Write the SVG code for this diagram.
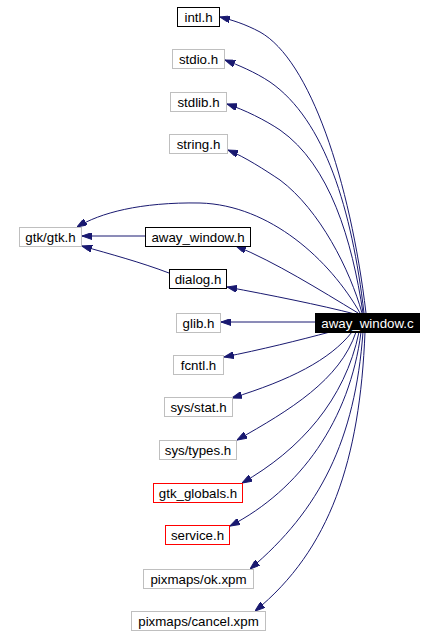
<svg xmlns="http://www.w3.org/2000/svg" width="436" height="636" viewBox="0 0 436 636">
<style>
  .bg { fill: #ffffff; }
  .n rect { fill: #ffffff; stroke-width: 1; }
  .gray rect { stroke: #bfbfbf; }
  .black rect { stroke: #000000; }
  .red rect { stroke: #ff0000; }
  .root rect { fill: #000000; stroke: #000000; }
  .n text { font-family: "Liberation Sans", Arial, sans-serif; font-size: 13.3px; text-anchor: middle; fill: #000000; }
  .root text { fill: #ffffff; }
  .e { fill: none; stroke: #191970; stroke-width: 1; marker-end: url(#arr); }
</style>
<defs>
  <marker id="arr" markerUnits="userSpaceOnUse" viewBox="0 0 10 7" refX="10" refY="3.5" markerWidth="10" markerHeight="7" orient="auto">
    <path d="M0,0 L10,3.5 L0,7 z" fill="#191970" stroke="#191970"/>
  </marker>
</defs>
<rect class="bg" x="0" y="0" width="436" height="636"/>
<g id="edges">
  <path class="e" d="M366,313 C350,180 310,60 260,32 C245,24 232,20 220,17"/>
  <path class="e" d="M364,313 C352,210 325,120 270,82 C255,72 238,65 225,60"/>
  <path class="e" d="M363,313 C352,240 330,165 280,130 C265,120 245,110 227,104"/>
  <path class="e" d="M362,313 C350,270 320,210 280,180 C265,170 245,157 228,150"/>
  <path class="e" d="M360,313 C330,260 270,205 200,203 C140,202 100,213 77,227"/>
  <path class="e" d="M358,313 C320,290 275,262 236,246"/>
  <path class="e" d="M355,314 C320,305 270,295 227,287"/>
  <path class="e" d="M315,322 L221,322"/>
  <path class="e" d="M330,332 C300,340 260,350 224,357"/>
  <path class="e" d="M352,332 C330,360 290,380 232,398"/>
  <path class="e" d="M356,332 C340,380 290,410 237,440"/>
  <path class="e" d="M359,332 C345,400 300,450 242,483"/>
  <path class="e" d="M361,332 C350,420 300,490 230,526"/>
  <path class="e" d="M363,332 C355,440 320,510 250,569"/>
  <path class="e" d="M365,332 C360,460 330,550 255,611"/>
  <path class="e" d="M145,236 L82,236"/>
  <path class="e" d="M169,273 C140,262 110,254 82,246"/>
</g>
<g id="node-intl" class="n black"><rect x="177.5" y="7.5" width="42" height="19"/><text x="198.5" y="21.5">intl.h</text></g>
<g id="node-stdio" class="n gray"><rect x="172.5" y="49.5" width="52" height="19"/><text x="198.5" y="63.5">stdio.h</text></g>
<g id="node-stdlib" class="n gray"><rect x="170.5" y="92.5" width="56" height="19"/><text x="198.5" y="106.5">stdlib.h</text></g>
<g id="node-string" class="n gray"><rect x="169.5" y="134.5" width="58" height="19"/><text x="198.5" y="148.5">string.h</text></g>
<g id="node-gtk" class="n gray"><rect x="19.5" y="227.5" width="62" height="19"/><text x="50.5" y="241.5">gtk/gtk.h</text></g>
<g id="node-away_window_h" class="n black"><rect x="145.5" y="227.5" width="105" height="19"/><text x="198" y="241.5">away_window.h</text></g>
<g id="node-dialog" class="n black"><rect x="169.5" y="269.5" width="57" height="19"/><text x="198" y="283.5">dialog.h</text></g>
<g id="node-glib" class="n gray"><rect x="176.5" y="313.5" width="44" height="19"/><text x="198.5" y="327.5">glib.h</text></g>
<g id="node-away_window_c" class="n root"><rect x="315.5" y="313.5" width="104" height="19"/><text x="367.5" y="327.5">away_window.c</text></g>
<g id="node-fcntl" class="n gray"><rect x="173.5" y="355.5" width="50" height="19"/><text x="198.5" y="369.5">fcntl.h</text></g>
<g id="node-sys_stat" class="n gray"><rect x="164.5" y="397.5" width="68" height="19"/><text x="198.5" y="411.5">sys/stat.h</text></g>
<g id="node-sys_types" class="n gray"><rect x="159.5" y="440.5" width="77" height="19"/><text x="198" y="454.5">sys/types.h</text></g>
<g id="node-gtk_globals" class="n red"><rect x="153.5" y="483.5" width="89" height="19"/><text x="198" y="497.5">gtk_globals.h</text></g>
<g id="node-service" class="n red"><rect x="165.5" y="525.5" width="64" height="19"/><text x="197.5" y="539.5">service.h</text></g>
<g id="node-ok_xpm" class="n gray"><rect x="143.5" y="569.5" width="110" height="19"/><text x="198.5" y="583.5">pixmaps/ok.xpm</text></g>
<g id="node-cancel_xpm" class="n gray"><rect x="131.5" y="611.5" width="134" height="19"/><text x="198.5" y="625.5">pixmaps/cancel.xpm</text></g>
</svg>
